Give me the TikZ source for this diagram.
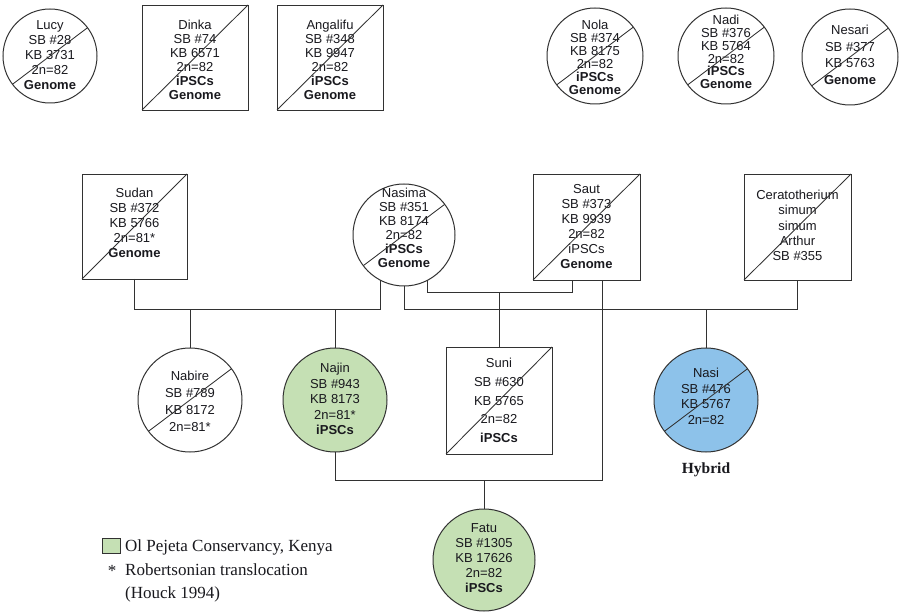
\documentclass[tikz,border=0pt]{standalone}
\usepackage{fontspec}
\setmainfont{Liberation Serif}
\setsansfont{Liberation Sans}
\usetikzlibrary{calc}
\definecolor{lineC}{RGB}{50,50,50}
\definecolor{txtC}{RGB}{25,25,30}
\definecolor{greenF}{RGB}{197,224,180}
\definecolor{blueF}{RGB}{141,194,234}
\tikzset{
  ind/.style={draw=lineC, line width=1pt, inner sep=0pt, outer sep=0pt},
  circ/.style={ind, circle, minimum size=#1},
  sq/.style={ind, line width=0.85pt, rectangle, minimum width=106pt, minimum height=105pt},
  txt/.style={font=\sffamily\fontsize{13}{#1}\selectfont, align=center, text=txtC, inner sep=0pt},
  txt/.default=15,
  diag/.style={draw=lineC, line width=0.85pt},
  conn/.style={draw=lineC, line width=0.9pt},
  legtxt/.style={font=\fontsize{17}{19}\selectfont, text=txtC, inner sep=0pt, anchor=west},
}
\begin{document}
\begin{tikzpicture}[x=1pt, y=-1pt]
\useasboundingbox (0,0) rectangle (900,612);
\fill[white] (0,0) rectangle (900,612);

% ---- top row ----
\node[circ=94pt, label={[txt=15, yshift=1pt]center:{Lucy\\SB \#28\\KB 3731\\2n=82\\\textbf{Genome}}}] (lucy) at (50,56) {};
\draw[diag] (lucy.217) -- (lucy.37);

\node[sq, label={[txt=14, yshift=-2.5pt]center:{Dinka\\SB \#74\\KB 6571\\2n=82\\\textbf{iPSCs}\\\textbf{Genome}}}] (dinka) at (195,57.5) {};
\draw[diag] (dinka.south west) -- (dinka.north east);

\node[sq, label={[txt=14, yshift=-2.5pt]center:{Angalifu\\SB \#348\\KB 9947\\2n=82\\\textbf{iPSCs}\\\textbf{Genome}}}] (angalifu) at (330,57.5) {};
\draw[diag] (angalifu.south west) -- (angalifu.north east);

\node[circ=96pt, label={[txt=13, yshift=-1pt]center:{Nola\\SB \#374\\KB 8175\\2n=82\\\textbf{iPSCs}\\\textbf{Genome}}}] (nola) at (595,56) {};
\draw[diag] (nola.217) -- (nola.37);

\node[circ=96pt, label={[txt=12.8, yshift=4pt]center:{Nadi\\SB \#376\\KB 5764\\2n=82\\\textbf{iPSCs}\\\textbf{Genome}}}] (nadi) at (726,56) {};
\draw[diag] (nadi.217) -- (nadi.37);

\node[circ=96pt, label={[txt=16.5, yshift=2pt]center:{Nesari\\SB \#377\\KB 5763\\\textbf{Genome}}}] (nesari) at (850,57) {};
\draw[diag] (nesari.217) -- (nesari.37);

% ---- second row ----
\node[sq, minimum width=105pt, label={[txt=15, yshift=3.5pt]center:{Sudan\\SB \#372\\KB 5766\\2n=81*\\\textbf{Genome}}}] (sudan) at (134.5,226.5) {};
\draw[diag] (sudan.south west) -- (sudan.north east);

\node[circ=102pt, label={[txt=14, yshift=7pt]center:{Nasima\\SB \#351\\KB 8174\\2n=82\\\textbf{iPSCs}\\\textbf{Genome}}}] (nasima) at (404,235) {};
\draw[diag] (nasima.217) -- (nasima.37);

\node[sq, minimum width=107pt, minimum height=106pt, label={[txt=15]center:{Saut\\SB \#373\\KB 9939\\2n=82\\iPSCs\\\textbf{Genome}}}] (saut) at (586.5,227) {};
\draw[diag] (saut.south west) -- (saut.north east);

\node[sq, minimum width=107pt, minimum height=106pt, label={[txt=15.3, yshift=1.5pt]center:{Ceratotherium\\simum\\simum\\Arthur\\SB \#355}}] (cerato) at (797.5,227) {};
\draw[diag] (cerato.south west) -- (cerato.north east);

% ---- third row ----
\node[circ=104pt, label={[txt=17, yshift=-1pt]center:{Nabire\\SB \#789\\KB 8172\\2n=81*}}] (nabire) at (190,400) {};
\draw[diag] (nabire.217) -- (nabire.37);

\node[circ=104pt, fill=greenF, label={[txt=15.5, yshift=1pt]center:{Najin\\SB \#943\\KB 8173\\2n=81*\\\textbf{iPSCs}}}] (najin) at (335,400) {};

\node[sq, minimum height=107pt, label={[txt=18.6]center:{Suni\\SB \#630\\KB 5765\\2n=82\\\textbf{iPSCs}}}] (suni) at (499,400.5) {};
\draw[diag] (suni.south west) -- (suni.north east);

\node[circ=104pt, fill=blueF, label={[txt=15.7, yshift=3.5pt]center:{Nasi\\SB \#476\\KB 5767\\2n=82}}] (nasi) at (706,400) {};
\draw[diag] (nasi.217) -- (nasi.37);

\node[font=\bfseries\fontsize{15.5}{18}\selectfont, text=txtC, inner sep=0pt] (hybrid) at (706,470) {Hybrid};

% ---- fourth row ----
\node[circ=102pt, fill=greenF, label={[txt=15, yshift=1.5pt]center:{Fatu\\SB \#1305\\KB 17626\\2n=82\\\textbf{iPSCs}}}] (fatu) at (484,560) {};

% ---- connectors ----
\coordinate (bar1) at (0,309);
\coordinate (bar2) at (0,292);
\coordinate (bar3) at (0,480);
\coordinate (sautL) at ($(saut.south)+(-14,0)$);
\coordinate (sautR) at ($(saut.south)+(16,0)$);

\draw[conn] (sudan.south) |- (nasima.242 |- bar1) -- (nasima.242);
\draw[conn] (nabire.north) -- (nabire.north |- bar1);
\draw[conn] (najin.north) -- (najin.north |- bar1);
\draw[conn] (nasima.south) |- (cerato.south |- bar1) -- (cerato.south);
\draw[conn] (nasi.north) -- (nasi.north |- bar1);
\draw[conn] (nasima.298) |- (sautL |- bar2) -- (sautL);
\draw[conn] (suni.north) -- (suni.north |- bar2);
\draw[conn] (najin.south) |- (sautR |- bar3) -- (sautR);
\draw[conn] (fatu.north) -- (fatu.north |- bar3);

% ---- legend ----
\node[draw=lineC, fill=greenF, line width=1pt, minimum width=18pt, minimum height=15pt, inner sep=0pt] (legsq) at (111,545.5) {};
\node[legtxt] (leg1) at (125,547) {Ol Pejeta Conservancy, Kenya};
\node[font=\fontsize{17}{19}\selectfont, text=txtC, inner sep=0pt] (legstar) at (112,571) {*};
\node[legtxt] (leg2) at (125,570) {Robertsonian translocation};
\node[legtxt] (leg3) at (125,594) {(Houck 1994)};
\end{tikzpicture}
\end{document}
